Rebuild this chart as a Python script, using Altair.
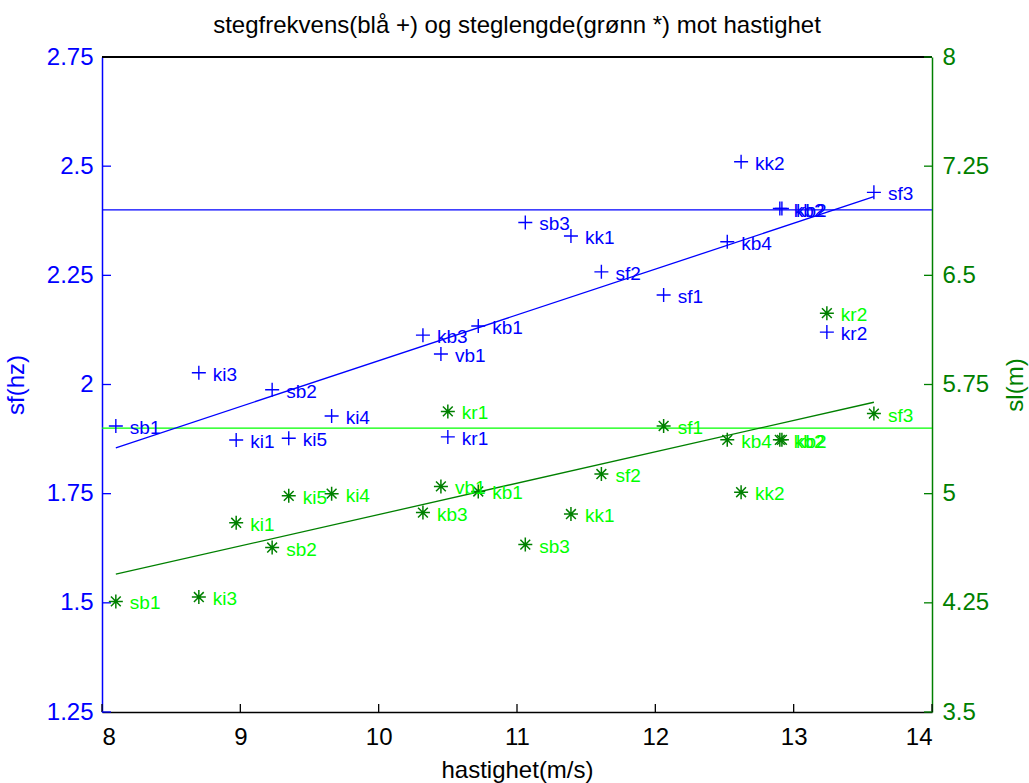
import altair as alt
import pandas as pd

# ---- data ----
names = ["sb1", "ki3", "ki1", "sb2", "ki5", "ki4", "kb3", "vb1", "kr1", "kb1",
         "sb3", "kk1", "sf2", "sf1", "kb4", "kk2", "kb2", "kb2", "kr2", "sf3"]
speed = [8.10, 8.70, 8.97, 9.23, 9.35, 9.66, 10.32, 10.45, 10.50, 10.72,
         11.06, 11.39, 11.61, 12.06, 12.52, 12.62, 12.90, 12.915, 13.24, 13.58]
sf_vals = [1.905, 2.027, 1.873, 1.988, 1.877, 1.928, 2.113, 2.070, 1.880, 2.134,
           2.371, 2.340, 2.258, 2.205, 2.327, 2.510, 2.403, 2.403, 2.120, 2.440]
sl_vals = [4.26, 4.29, 4.80, 4.63, 4.985, 5.00, 4.87, 5.05, 5.565, 5.015,
           4.65, 4.86, 5.135, 5.465, 5.37, 5.01, 5.37, 5.37, 6.24, 5.55]

fit_x = [8.10, 13.58]
sf_fit = [1.855, 2.430]
sl_fit = [4.447, 5.628]

ref_x = [8, 14]
sf_ref_blue = [2.4, 2.4]
sf_ref_green = [1.9, 1.9]

x_ticks = [8, 9, 10, 11, 12, 13, 14]
sf_ticks = [1.25, 1.5, 1.75, 2.0, 2.25, 2.5, 2.75]
sl_ticks = [3.5, 4.25, 5.0, 5.75, 6.5, 7.25, 8.0]

TITLE = "stegfrekvens(blå +) og steglengde(grønn *) mot hastighet"

# ---- styling ----
W, H = 830, 655
FONT = "Liberation Sans, Arial, Helvetica, sans-serif"
BLUE = "#0000FF"
DGREEN = "#008000"
LIME = "#00FF00"
PLUS = "M-1,0L1,0M0,-1L0,1"
STAR = "M-1,0L1,0M0,-1L0,1M-0.7,-0.7L0.7,0.7M-0.7,0.7L0.7,-0.7"
LABEL_EXPR = "'' + datum.value"

df = pd.DataFrame({"name": names, "v": speed, "sf": sf_vals, "sl": sl_vals})
fit_sf_df = pd.DataFrame({"v": fit_x, "sf": sf_fit})
fit_sl_df = pd.DataFrame({"v": fit_x, "sl": sl_fit})
ref_blue_df = pd.DataFrame({"v": ref_x, "sf": sf_ref_blue})
ref_green_df = pd.DataFrame({"v": ref_x, "sf": sf_ref_green})
xt_df = pd.DataFrame({"v": x_ticks})
sft_df = pd.DataFrame({"sf": sf_ticks})
slt_df = pd.DataFrame({"sl": sl_ticks})

xscale = alt.Scale(domain=[8, 14], nice=False, zero=False)
sf_scale = alt.Scale(domain=[1.25, 2.75], nice=False, zero=False)
sl_scale = alt.Scale(domain=[3.5, 8], nice=False, zero=False)

x_axis = alt.Axis(values=x_ticks, title="hastighet(m/s)", ticks=False, tickSize=0,
                  labelExpr=LABEL_EXPR,
                  domainColor="black", domainWidth=1.5, labelColor="black",
                  labelFontSize=24, labelFont=FONT, labelPadding=13,
                  titleFont=FONT, titleFontSize=24, titleFontWeight="normal",
                  titleColor="black", titleY=65, titleBaseline="alphabetic",
                  grid=False)
sf_axis = alt.Axis(orient="left", values=sf_ticks, labelExpr=LABEL_EXPR, ticks=False, tickSize=0,
                   domainColor=BLUE, domainWidth=1.5, labelColor=BLUE,
                   labelFontSize=24, labelFont=FONT, labelPadding=9,
                   title="sf(hz)", titleColor=BLUE, titleFont=FONT, titleFontSize=24,
                   titleFontWeight="normal", titleAngle=270, titleX=-86, titleY=H / 2,
                   titleAlign="center", titleBaseline="middle", grid=False)
sl_axis = alt.Axis(orient="right", values=sl_ticks, labelExpr=LABEL_EXPR, ticks=False, tickSize=0,
                   domainColor=DGREEN, domainWidth=1.5, labelColor=DGREEN,
                   labelFontSize=24, labelFont=FONT, labelPadding=10,
                   title="sl(m)", titleColor=DGREEN, titleFont=FONT, titleFontSize=24,
                   titleFontWeight="normal", titleAngle=270, titleX=83, titleY=H / 2,
                   titleAlign="center", titleBaseline="middle", grid=False)

X = alt.X("v:Q", scale=xscale, axis=x_axis)
YSF = alt.Y("sf:Q", scale=sf_scale, axis=sf_axis)
YSL = alt.Y("sl:Q", scale=sl_scale, axis=sl_axis)

# ---- left (sf) layers ----
ref_blue = alt.Chart(ref_blue_df).mark_line(color=BLUE, strokeWidth=1.2).encode(x=X, y=YSF)
ref_green = alt.Chart(ref_green_df).mark_line(color=LIME, strokeWidth=1.2).encode(x=X, y=YSF)
fit_blue = alt.Chart(fit_sf_df).mark_line(color=BLUE, strokeWidth=1.3).encode(x=X, y=YSF)
pts_blue = alt.Chart(df).mark_point(shape=PLUS, size=196, filled=False, strokeWidth=1.4,
                                    color=BLUE, opacity=1).encode(x=X, y=YSF)
lab_blue = alt.Chart(df).mark_text(align="left", baseline="middle", dx=14, dy=2,
                                   fontSize=19, font=FONT, color=BLUE).encode(
    x=X, y=YSF, text="name:N")
xticks = alt.Chart(xt_df).mark_rule(color="black", strokeWidth=1.3).encode(
    x=X, y=alt.value(H), y2=alt.value(H - 8))
sfticks = alt.Chart(sft_df).mark_rule(color=BLUE, strokeWidth=1.3).encode(
    y=YSF, x=alt.value(0), x2=alt.value(9))
top_border = alt.Chart(xt_df).mark_rule(color="black", strokeWidth=1.3).encode(
    x=alt.value(0), x2=alt.value(W), y=alt.value(0))

left = alt.layer(ref_blue, ref_green, fit_blue, xticks, sfticks, top_border, pts_blue, lab_blue)

# ---- right (sl) layers ----
fit_green = alt.Chart(fit_sl_df).mark_line(color=DGREEN, strokeWidth=1.3).encode(x=X, y=YSL)
pts_green = alt.Chart(df).mark_point(shape=STAR, size=196, filled=False, strokeWidth=1.5,
                                     color=DGREEN, opacity=1).encode(x=X, y=YSL)
lab_green = alt.Chart(df).mark_text(align="left", baseline="middle", dx=14, dy=2,
                                    fontSize=19, font=FONT, color=LIME).encode(
    x=X, y=YSL, text="name:N")
slticks = alt.Chart(slt_df).mark_rule(color=DGREEN, strokeWidth=1.3).encode(
    y=YSL, x=alt.value(W), x2=alt.value(W - 8))

right = alt.layer(fit_green, slticks, pts_green, lab_green)

chart = alt.layer(left, right).resolve_scale(y="independent").properties(
    width=W, height=H,
    autosize=alt.AutoSizeParams(type="none"),
    padding={"left": 102, "top": 57, "right": 97, "bottom": 71},
    title=alt.Title(text=TITLE, fontSize=24, font=FONT, fontWeight="normal",
                    color="black", offset=7, anchor="middle"),
).configure_view(stroke=None)

chart.save("out.html", embed_options={"renderer": "svg", "actions": False})
